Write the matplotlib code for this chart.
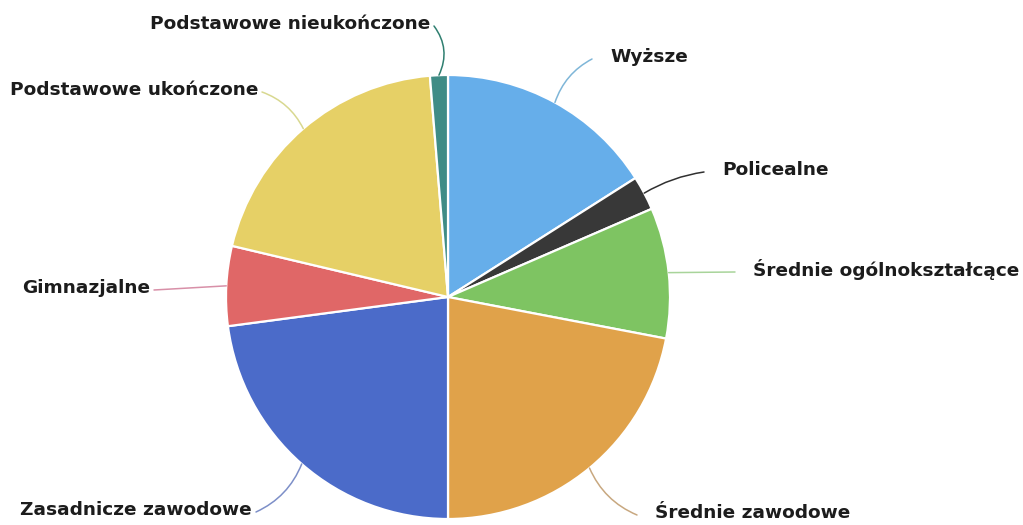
import numpy as np
import matplotlib
matplotlib.use("Agg")
import matplotlib.pyplot as plt

# education levels, share in percent
labels = ["Wyższe", "Policealne", "Średnie ogólnokształcące", "Średnie zawodowe",
          "Zasadnicze zawodowe", "Gimnazjalne", "Podstawowe ukończone",
          "Podstawowe nieukończone"]
values = [16.0, 2.5, 9.5, 22.0, 22.9, 5.8, 20.0, 1.3]
colors = ["#66aeea", "#383838", "#7ec462", "#e0a24a", "#4b6bc9", "#e06767",
          "#e6d066", "#3f8c86"]
line_colors = ["#7fb6d8", "#303030", "#a8d49a", "#c8a880", "#7d8fc8", "#d890a8",
               "#d8d890", "#2f7f70"]

# label placement (x, y in pixels from top-left, horizontal alignment, curve)
label_pos = [(610, 57, "left", 0.2), (722, 170, "left", 0.1),
             (753, 270, "left", 0.0), (655, 513, "left", -0.2),
             (252, 510, "right", 0.2), (150, 288, "right", 0.0),
             (258, 90, "right", -0.2), (430, 24, "right", -0.3)]

W, H = 1023, 525
fig = plt.figure(figsize=(W / 100, H / 100), dpi=100)
ax = fig.add_axes([0, 0, 1, 1])

cx, cy, r = 448, H - 297, 222
wedges, _ = ax.pie(values, colors=colors, startangle=90, counterclock=False,
                   center=(cx, cy), radius=r, frame=True,
                   wedgeprops=dict(edgecolor="white", linewidth=1.6))
ax.set_xlim(0, W)
ax.set_ylim(0, H)
ax.set_aspect("equal")
ax.axis("off")

for w, lab, lc, (lx, ly, ha, rad) in zip(wedges, labels, line_colors, label_pos):
    ang = np.deg2rad((w.theta1 + w.theta2) / 2)
    px, py = cx + r * np.cos(ang), cy + r * np.sin(ang)
    tx = lx - 18 if ha == "left" else lx + 4
    ty = H - ly
    ax.annotate("", xy=(px, py), xytext=(tx, ty - 2),
                arrowprops=dict(arrowstyle="-", color=lc, lw=1.1,
                                shrinkA=0, shrinkB=0,
                                connectionstyle=f"arc3,rad={rad}"))
    ax.text(lx, ty, lab, ha=ha, va="center", fontsize=13.3,
            fontweight="bold", color="#1c1c1c", family="DejaVu Sans")

fig.savefig("out.png", dpi=100, facecolor="white")
